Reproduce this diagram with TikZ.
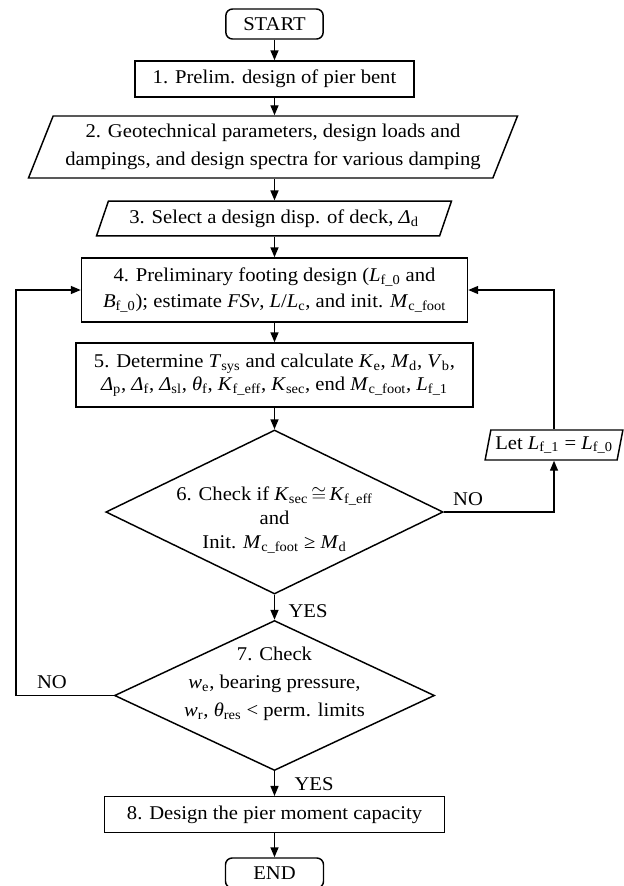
\documentclass[tikz,border=0pt]{standalone}
\usepackage{fontspec}
\setmainfont[FakeStretch=1.06]{Liberation Serif}
\usetikzlibrary{shapes.geometric,arrows.meta}

\newcommand{\mvar}[2]{\textit{#1}\textsubscript{#2}}

\tikzset{every picture/.style={line width=1.1pt}}
\tikzset{
  boxstep/.style={draw, rectangle, inner sep=0pt, align=center},
  termstep/.style={draw, rectangle, rounded corners=5pt, inner sep=0pt, align=center},
  datastep/.style={draw, trapezium, trapezium stretches=true, inner sep=0pt, align=center},
  checkstep/.style={draw, diamond, inner sep=0pt},
  flowarrow/.style={-{Triangle[length=7.5pt,width=6pt]}},
  plaintext/.style={inner sep=0pt, align=center}
}

\begin{document}
\begin{tikzpicture}[x=0.75pt,y=0.75pt,yscale=-1,xscale=1,font=\fontsize{14.6}{18}\selectfont]
\useasboundingbox (0,0) rectangle (624,886);

%Shape: Terminal
\node [termstep, minimum width=73pt, minimum height=22.5pt] (start) at (274.5,24) {START};
%Shape: Rectangle
\node [boxstep, minimum width=209pt, minimum height=27pt] (prelim) at (274.5,79) {1. Prelim. design of pier bent};
%Shape: Parallelogram
\node [datastep, trapezium left angle=63, trapezium right angle=117, minimum width=367pt, minimum height=46.5pt, font=\fontsize{14.6}{21}\selectfont] (geotech) at (273,147) {2. Geotechnical parameters, design loads and\\dampings, and design spectra for various damping};
%Shape: Parallelogram
\node [datastep, trapezium left angle=60, trapezium right angle=120, minimum width=267pt, minimum height=26pt] (disp) at (274,218.5) {3. Select a design disp. of deck, \mvar{Δ}{d}};
%Shape: Rectangle
\node [boxstep, minimum width=289.5pt, minimum height=48pt, font=\fontsize{14.6}{19}\selectfont] (footing) at (274.5,290) {4. Preliminary footing design (\mvar{L}{f\_0} and\\\mvar{B}{f\_0}); estimate \textit{FSv}, \textit{L}/\mvar{L}{c}, and init. \mvar{M}{c\_foot}};
%Shape: Rectangle
\node [boxstep, minimum width=298pt, minimum height=48pt, font=\fontsize{14.6}{17}\selectfont] (calc) at (274.5,375) {5. Determine \mvar{T}{sys} and calculate \mvar{K}{e}, \mvar{M}{d}, \mvar{V}{b},\\\mvar{Δ}{p}, \mvar{Δ}{f}, \mvar{Δ}{sl}, \mvar{θ}{f}, \mvar{K}{f\_eff}, \mvar{K}{sec}, end \mvar{M}{c\_foot}, \mvar{L}{f\_1}};
%Shape: Diamond
\node [checkstep, minimum width=253pt, minimum height=123pt] (ksec) at (274.5,512) {};
\node [plaintext, font=\fontsize{14.6}{18}\selectfont] (ksectext) at (274.5,520) {6. Check if \mvar{K}{sec}\,$\cong$\,\mvar{K}{f\_eff}\\and\\Init. \mvar{M}{c\_foot} ≥ \mvar{M}{d}};
%Shape: Parallelogram
\node [datastep, trapezium left angle=73, trapezium right angle=107, minimum width=103.5pt, minimum height=22.5pt] (letlf) at (554,445) {Let \mvar{L}{f\_1} = \mvar{L}{f\_0}};
%Shape: Diamond
\node [checkstep, minimum width=240pt, minimum height=112.5pt] (limits) at (274.5,695.5) {};
\node [plaintext, font=\fontsize{14.6}{21}\selectfont] (limitstext) at (274.5,684) {7. Check\\\mvar{w}{e}, bearing pressure,\\\mvar{w}{r}, \mvar{θ}{res} < perm. limits};
%Shape: Rectangle
\node [boxstep, minimum width=255pt, minimum height=26.7pt] (moment) at (274.5,814.5) {8. Design the pier moment capacity};
%Shape: Terminal
\node [termstep, minimum width=73.5pt, minimum height=22.5pt] (finish) at (274.5,873) {END};

%Corner of the left loop
\coordinate (loopleft) at (16,695.5);

%Straight Lines
\draw [flowarrow] (start) -- (prelim);
\draw [flowarrow] (prelim) -- (prelim |- geotech.north);
\draw [flowarrow] (prelim |- geotech.south) -- (prelim |- disp.north);
\draw [flowarrow] (prelim |- disp.south) -- (footing);
\draw [flowarrow] (footing) -- (calc);
\draw [flowarrow] (calc) -- (ksec.north);
\draw [flowarrow] (ksec.south) -- (limits.north);
\draw [flowarrow] (limits.south) -- (moment);
\draw [flowarrow] (moment) -- (finish);
%Loops
\draw [flowarrow] (ksec.east) -| (letlf.south);
\draw [flowarrow] (letlf.north) |- (footing.east);
\draw [flowarrow] (limits.west) -- (loopleft) |- (footing.west);

% Text Node
\node [plaintext] (nosix) at (468,499) {NO};
% Text Node
\node [plaintext] (yessix) at (308,611) {YES};
% Text Node
\node [plaintext] (noseven) at (52,682) {NO};
% Text Node
\node [plaintext] (yesseven) at (314,784) {YES};

\end{tikzpicture}
\end{document}
